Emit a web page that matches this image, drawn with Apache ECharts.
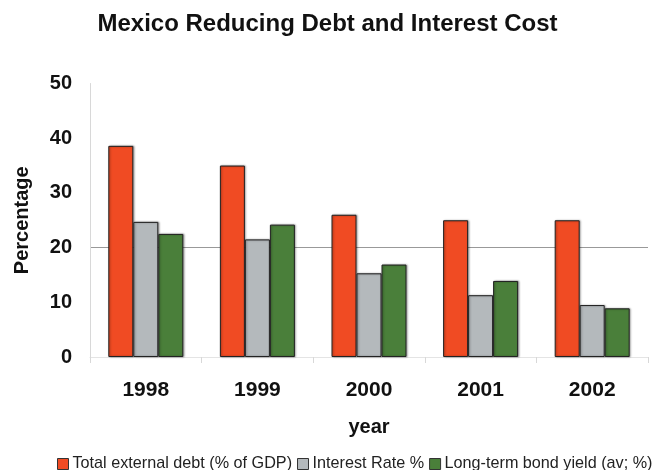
<!DOCTYPE html>
<html><head><meta charset="utf-8">
<script src="https://cdn.jsdelivr.net/npm/echarts@6/dist/echarts.min.js"></script>
<style>html,body{margin:0;padding:0;background:#fff}#c{width:655px;height:470px}</style>
</head><body><div id="c"></div>
<script>
const categories = ['1998', '1999', '2000', '2001', '2002'];
const seriesNames = ['Total external debt (% of GDP)', 'Interest Rate %', 'Long-term bond yield (av; %)'];
const totalDebt = [38.6, 35.0, 26.0, 25.0, 25.0];
const interestRate = [24.7, 21.5, 15.3, 11.3, 9.5];
const bondYield = [22.5, 24.2, 16.9, 13.9, 8.9];
const yTicks = [0, 10, 20, 30, 40, 50];

const colors = ['#F04B23', '#B4B9BC', '#4A7F3A'];
const font = '"Liberation Sans", Arial, sans-serif';
const narrow = '"Liberation Sans Narrow", "Arial Narrow", "Liberation Sans", sans-serif';
const chart = echarts.init(document.getElementById('c'), null, {renderer: 'canvas'});
const values = [totalDebt, interestRate, bondYield];
chart.setOption({
  animation: false,
  title: {
    text: 'Mexico Reducing Debt and Interest Cost',
    left: 'center', top: 7,
    textStyle: {fontFamily: font, fontWeight: 'bold', fontSize: 24, color: '#111'}
  },
  grid: {left: 90, right: 7, top: 83.5, bottom: 113},
  legend: {
    top: 456, left: 57, width: 700, padding: 0,
    itemWidth: 11, itemHeight: 11, itemGap: 5,
    textStyle: {fontFamily: narrow, fontSize: 16.2, color: '#222', padding: [0, 0, 0, -1]},
    data: seriesNames.map((n, i) => ({name: n, icon: 'rect', itemStyle: {color: colors[i], borderColor: '#333', borderWidth: 1}}))
  },
  xAxis: {
    type: 'category', data: categories,
    name: 'year', nameLocation: 'middle', nameGap: 60,
    nameTextStyle: {fontFamily: font, fontWeight: 'bold', fontSize: 20, color: '#111'},
    axisLine: {show: true, lineStyle: {color: '#e4e4e4'}},
    axisTick: {show: true, length: 6, lineStyle: {color: '#d8d8d8'}},
    axisLabel: {fontFamily: font, fontWeight: 'bold', fontSize: 21, color: '#111', margin: 23}
  },
  yAxis: {
    type: 'value', min: yTicks[0], max: yTicks[yTicks.length - 1], interval: 10,
    name: 'Percentage', nameLocation: 'middle', nameGap: 58, nameRotate: 90,
    nameTextStyle: {fontFamily: font, fontWeight: 'bold', fontSize: 20, color: '#111'},
    axisLine: {show: true, lineStyle: {color: '#d8d8d8'}},
    axisTick: {show: false},
    axisLabel: {fontFamily: font, fontWeight: 'bold', fontSize: 20, color: '#111', margin: 18},
    splitLine: {show: true, lineStyle: {color: ['transparent', 'transparent', '#999999', 'transparent', 'transparent', 'transparent']}}
  },
  series: seriesNames.map((n, i) => ({
    name: n, type: 'bar', data: values[i],
    barWidth: 25, barGap: '0%',
    itemStyle: {color: colors[i], borderColor: '#222', borderWidth: 1,
      shadowColor: 'rgba(0,0,0,0.35)', shadowBlur: 2, shadowOffsetX: 1, shadowOffsetY: 0}
  }))
});
</script></body></html>
